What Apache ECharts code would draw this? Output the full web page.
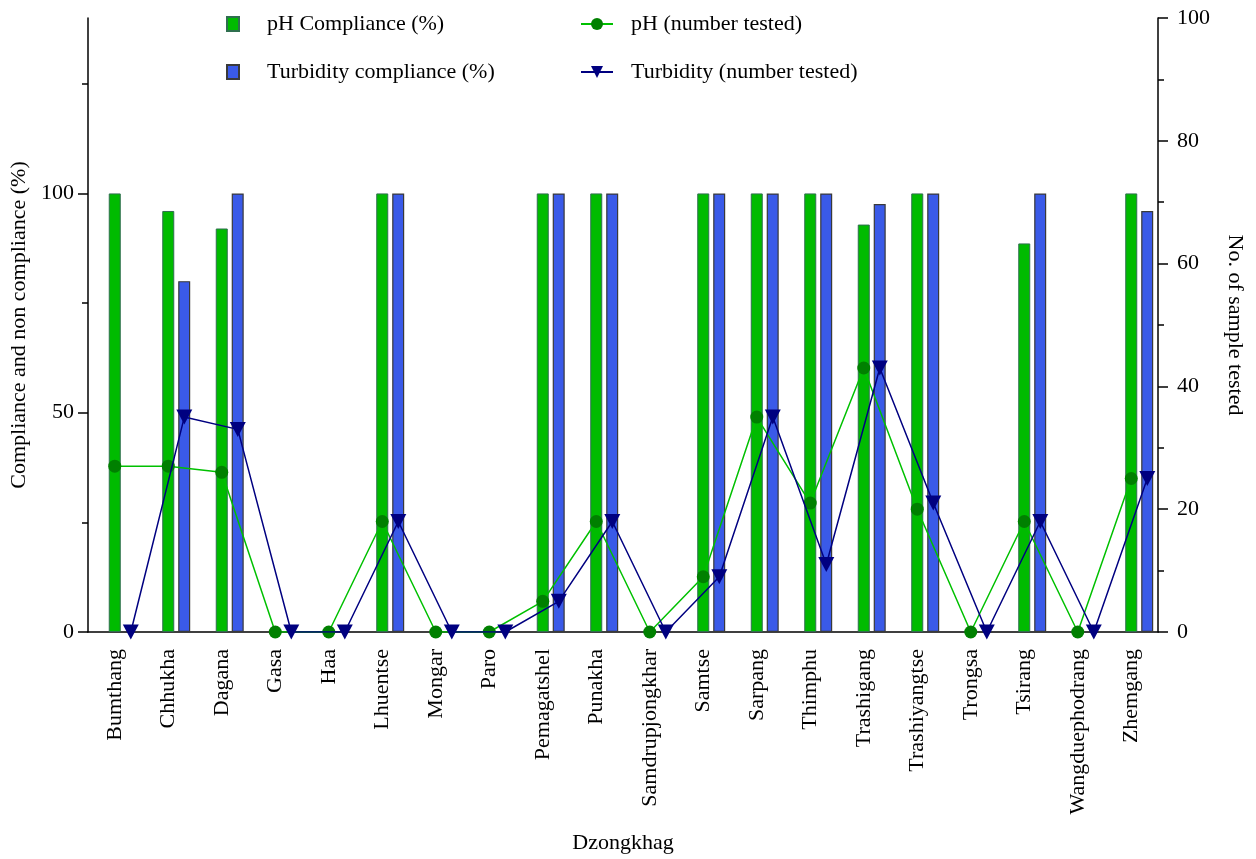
<!DOCTYPE html>
<html>
<head>
<meta charset="utf-8">
<script src="https://cdn.jsdelivr.net/npm/echarts@6/dist/echarts.min.js"></script>
<style>
  html, body { margin: 0; padding: 0; background: #fff; }
  #chart { width: 1256px; height: 859px; }
</style>
</head>
<body>
<div id="chart"></div>
<script>
// dzongkhags on the x axis
var categories = ['Bumthang', 'Chhukha', 'Dagana', 'Gasa', 'Haa', 'Lhuentse', 'Mongar', 'Paro',
  'Pemagatshel', 'Punakha', 'Samdrupjongkhar', 'Samtse', 'Sarpang', 'Thimphu', 'Trashigang',
  'Trashiyangtse', 'Trongsa', 'Tsirang', 'Wangduephodrang', 'Zhemgang'];

// compliance (%) - left axis
var phCompliance = [100, 96, 92, 0, 0, 100, 0, 0, 100, 100, 0, 100, 100, 100, 92.9, 100, 0, 88.6, 0, 100];
var turbCompliance = [0, 80, 100, 0, 0, 100, 0, 0, 100, 100, 0, 100, 100, 100, 97.6, 100, 0, 100, 0, 96];

// number of samples tested - right axis
var phTested = [27, 27, 26, 0, 0, 18, 0, 0, 5, 18, 0, 9, 35, 21, 43, 20, 0, 18, 0, 25];
var turbTested = [0, 35, 33, 0, 0, 18, 0, 0, 5, 18, 0, 9, 35, 11, 43, 21, 0, 18, 0, 25];

var leftLabels = [0, 50, 100];
var leftMinor = [25, 75, 125];

var FONT = "'Liberation Serif', 'Times New Roman', serif";
var turbShift = 0.3; // turbidity markers sit over the blue bar

var chart = echarts.init(document.getElementById('chart'));

var option = {
  animation: false,
  textStyle: { fontFamily: FONT, color: '#000' },
  grid: { left: 88, right: 98, top: 18, bottom: 226 },
  legend: [{
    data: [{ name: 'pH Compliance (%)', icon: 'rect' }, { name: 'Turbidity compliance (%)', icon: 'rect' }],
    orient: 'vertical',
    left: 221,
    top: 8,
    itemWidth: 12,
    itemHeight: 14,
    itemGap: 26,
    textStyle: { fontFamily: FONT, fontSize: 22, color: '#000', padding: [0, 0, 0, 23] }
  }, {
    data: ['pH (number tested)', 'Turbidity (number tested)'],
    orient: 'vertical',
    left: 575,
    top: 8,
    itemWidth: 32,
    itemHeight: 15,
    itemGap: 26,
    textStyle: { fontFamily: FONT, fontSize: 22, color: '#000', padding: [0, 0, 0, 13] }
  }],
  xAxis: [{
    type: 'category',
    data: categories,
    name: 'Dzongkhag',
    nameLocation: 'middle',
    nameGap: 200,
    nameTextStyle: { fontFamily: FONT, fontSize: 22, color: '#000' },
    axisLine: { lineStyle: { color: '#000', width: 1.5 } },
    axisTick: { alignWithLabel: true, length: 10, lineStyle: { color: '#000', width: 1.5 } },
    axisLabel: { interval: 0, rotate: 90, margin: 17, fontFamily: FONT, fontSize: 22, color: '#000' },
    splitLine: { show: false }
  }, {
    type: 'value',
    min: -0.5,
    max: categories.length - 0.5,
    show: false
  }],
  yAxis: [{
    type: 'value',
    min: 0,
    max: 140,
    position: 'left',
    name: 'Compliance and non compliance (%)',
    nameLocation: 'middle',
    nameGap: 56,
    nameRotate: 90,
    nameTextStyle: { fontFamily: FONT, fontSize: 22, color: '#000' },
    axisLine: { show: true, onZero: false, lineStyle: { color: '#000', width: 1.5 } },
    axisTick: { show: true, length: 10, customValues: leftLabels, lineStyle: { color: '#000', width: 1.5 } },
    axisLabel: { customValues: leftLabels, margin: 14, fontFamily: FONT, fontSize: 22, color: '#000' },
    splitLine: { show: false }
  }, {
    type: 'value',
    min: 0,
    max: 100,
    interval: 20,
    position: 'right',
    name: 'No. of sample tested',
    nameLocation: 'middle',
    nameGap: 66,
    nameRotate: -90,
    nameTextStyle: { fontFamily: FONT, fontSize: 22, color: '#000' },
    axisLine: { show: true, onZero: false, lineStyle: { color: '#000', width: 1.5 } },
    axisTick: { show: true, length: 10, lineStyle: { color: '#000', width: 1.5 } },
    minorTick: { show: true, splitNumber: 2, length: 6, lineStyle: { color: '#000', width: 1.5 } },
    axisLabel: { margin: 19, fontFamily: FONT, fontSize: 22, color: '#000' },
    splitLine: { show: false }
  }, {
    // minor ticks of the left axis
    type: 'value',
    min: 0,
    max: 140,
    position: 'left',
    axisLine: { show: false, onZero: false },
    axisTick: { show: true, length: 6, customValues: leftMinor, lineStyle: { color: '#000', width: 1.5 } },
    axisLabel: { show: false },
    splitLine: { show: false }
  }],
  series: [{
    // empty slot so the green bar sits on the tick
    name: 'slot',
    type: 'bar',
    data: [],
    barWidth: 12,
    barGap: '33%'
  }, {
    name: 'pH Compliance (%)',
    type: 'bar',
    data: phCompliance,
    barWidth: 12,
    barGap: '33%',
    itemStyle: { color: '#00bb00', borderColor: '#2f6f4f', borderWidth: 1 }
  }, {
    name: 'Turbidity compliance (%)',
    type: 'bar',
    data: turbCompliance,
    barWidth: 12,
    barGap: '33%',
    itemStyle: { color: '#3a5ae8', borderColor: '#3a3a3a', borderWidth: 1.2 }
  }, {
    name: 'pH (number tested)',
    type: 'line',
    yAxisIndex: 1,
    data: phTested,
    symbol: 'circle',
    symbolSize: 13,
    lineStyle: { color: '#00c000', width: 1.5 },
    itemStyle: { color: '#008000', borderWidth: 0 },
    z: 5
  }, {
    name: 'Turbidity (number tested)',
    type: 'line',
    xAxisIndex: 1,
    yAxisIndex: 1,
    data: turbTested.map(function (v, i) { return [i + turbShift, v]; }),
    symbol: 'triangle',
    symbolRotate: 180,
    symbolSize: [16, 15],
    lineStyle: { color: '#000080', width: 1.5 },
    itemStyle: { color: '#000080', borderWidth: 0 },
    z: 6
  }]
};

chart.setOption(option);
</script>
</body>
</html>
